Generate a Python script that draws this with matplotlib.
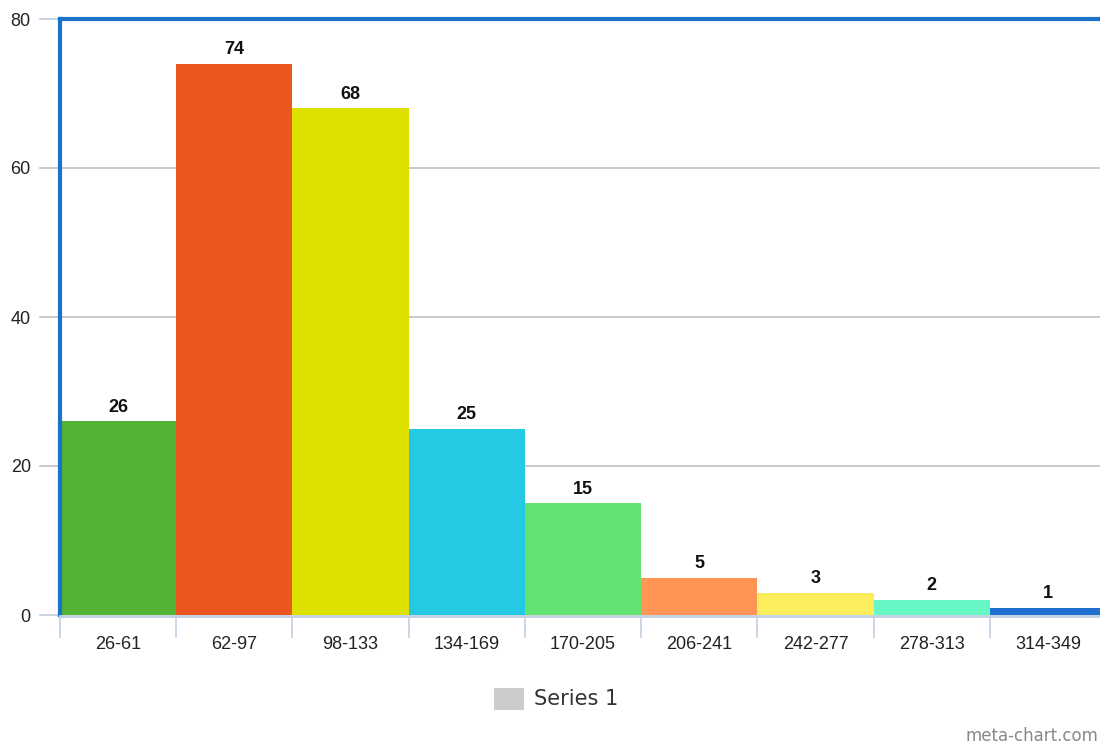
import matplotlib.pyplot as plt
from matplotlib.patches import Rectangle

plt.rcParams['font.family'] = 'sans-serif'
plt.rcParams['font.sans-serif'] = ['Liberation Sans', 'DejaVu Sans']

bins = ['26-61', '62-97', '98-133', '134-169', '170-205',
        '206-241', '242-277', '278-313', '314-349']
counts = [26, 74, 68, 25, 15, 5, 3, 2, 1]
colors = ['#52b334', '#ea561d', '#dee000', '#25c9e3', '#62e372',
          '#ff9455', '#fbed5b', '#66f7c4', '#1f6fcf']
yticks = [0, 20, 40, 60, 80]

fig = plt.figure(figsize=(11, 7.47), dpi=100)
# plot area runs slightly past the right edge of the figure
ax = fig.add_axes([60 / 1100, 132 / 747, 1046 / 1100, 596 / 747])
ax.set_xlim(0, len(bins))
ax.set_ylim(0, 80)

xs = [i + 0.5 for i in range(len(bins))]
ax.bar(xs, counts, width=1.0, color=colors, zorder=2)
for x, c in zip(xs, counts):
    ax.text(x, c + 1.9, str(c), ha='center', va='center',
            fontsize=13, fontweight='bold', color='#111111', zorder=3)

# horizontal grid, running a bit left of the plot area
for y in yticks[1:-1]:
    ax.plot([-0.17, len(bins)], [y, y], color='#c0c0c0', lw=1.2,
            clip_on=False, zorder=1)
for y in (0, 80):
    ax.plot([-0.17, 0], [y, y], color='#c0d0e0', lw=1.2, clip_on=False, zorder=1)

ax.set_yticks(yticks)
ax.set_yticklabels([str(v) for v in yticks])
ax.tick_params(axis='y', length=0, pad=21, labelsize=13, labelcolor='#222222')

# category ticks on the bin boundaries, labels in the middle
ax.set_xticks(range(len(bins)))
ax.set_xticklabels([])
ax.set_xticks(xs, minor=True)
ax.set_xticklabels(bins, minor=True)
ax.tick_params(axis='x', which='major', length=16, width=1.2, color='#c0d0e0')
ax.tick_params(axis='x', which='minor', length=0, pad=14, labelsize=13,
               labelcolor='#222222')

for side in ('left', 'top'):
    ax.spines[side].set_color('#1a73c8')
    ax.spines[side].set_linewidth(3)
ax.spines['right'].set_visible(False)
ax.spines['bottom'].set_color('#c0d0e0')
ax.spines['bottom'].set_linewidth(2)
ax.spines['bottom'].set_position(('outward', 1))

# legend
fig.patches.append(Rectangle((494 / 1100, 37 / 747), 30 / 1100, 22 / 747,
                             transform=fig.transFigure, facecolor='#cccccc',
                             edgecolor='none'))
fig.text(534 / 1100, 48 / 747, 'Series 1', fontsize=15, color='#333333',
         va='center', ha='left', family='DejaVu Sans')

fig.text(1098 / 1100, 2 / 747, 'meta-chart.com', fontsize=12, color='#888888',
         ha='right', va='bottom', family='DejaVu Sans')

fig.savefig('out.png', dpi=100)
